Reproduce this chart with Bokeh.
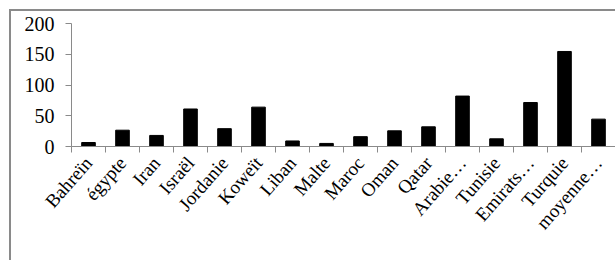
import math
from bokeh.plotting import figure
from bokeh.models import FixedTicker, Range1d, ColumnDataSource
from bokeh.embed import file_html
from bokeh.resources import INLINE

countries = ["Bahreïn", "égypte", "Iran", "Israël", "Jordanie", "Koweït", "Liban", "Malte",
             "Maroc", "Oman", "Qatar", "Arabie…", "Tunisie", "Emirats…", "Turquie", "moyenne…"]
values = [6.5, 26.5, 18, 61, 29, 64, 9, 5, 16, 25.5, 32, 82, 12.5, 71.5, 154.5, 44.5]
y_ticks = [0, 50, 100, 150, 200]

n = len(countries)
centers = [i + 0.5 for i in range(n)]
bounds = list(range(n + 1))

src = ColumnDataSource(dict(x=centers, top=values, name=countries))

grey = "#8a8a8a"
font = "Liberation Serif"

p = figure(width=606, height=251, x_range=Range1d(0, n), y_range=Range1d(0, 200),
           output_backend="svg", toolbar_location=None,
           min_border_left=60, min_border_right=2, min_border_top=12, min_border_bottom=116)
p.styles = {"border-left": f"2px solid {grey}", "border-top": f"2px solid {grey}",
            "margin-left": "9px", "margin-top": "9px"}

p.vbar(x="x", top="top", width=0.4, source=src, fill_color="black", line_color="black")

xa = p.xaxis[0]
xa.ticker = FixedTicker(ticks=centers, minor_ticks=bounds)
xa.major_label_overrides = {c: name for c, name in zip(centers, countries)}
xa.major_tick_out = 0
xa.major_tick_in = 0
xa.minor_tick_out = 6
xa.minor_tick_in = 0
xa.minor_tick_line_color = grey
xa.minor_tick_line_width = 1
xa.axis_line_color = grey
xa.major_label_orientation = 0.85
xa.major_label_text_font = font
xa.major_label_text_font_size = "19px"
xa.major_label_text_color = "black"
xa.major_label_standoff = 7

ya = p.yaxis[0]
ya.ticker = FixedTicker(ticks=y_ticks)
ya.major_tick_out = 6
ya.major_tick_in = 0
ya.minor_tick_out = 0
ya.minor_tick_in = 0
ya.major_tick_line_color = grey
ya.axis_line_color = grey
ya.major_label_text_font = font
ya.major_label_text_font_size = "20px"
ya.major_label_text_color = "black"
ya.major_label_standoff = 11

p.xgrid.visible = False
p.ygrid.visible = False
p.outline_line_color = None

open("out.html", "w").write(file_html(p, INLINE))
